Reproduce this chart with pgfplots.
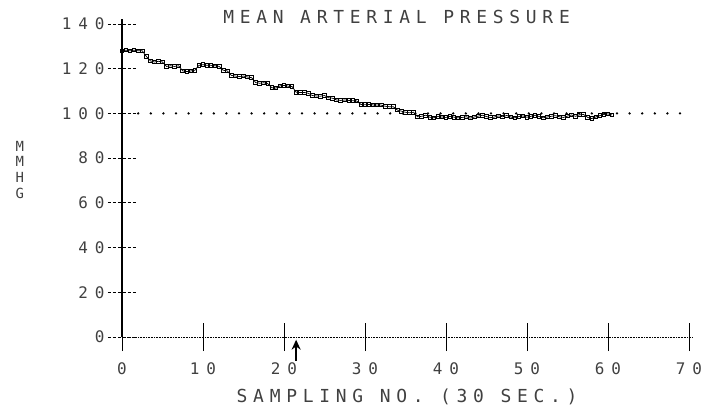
\documentclass[border=0pt]{standalone}
\usepackage{fontspec}
\newfontfamily\titlefont{DejaVu Sans Mono}[LetterSpace=32]
\newfontfamily\tickfont{DejaVu Sans Mono}[LetterSpace=43]
\usepackage{pgfplots}
\pgfplotsset{compat=1.18}
\usetikzlibrary{arrows.meta}
\begin{document}
\begin{tikzpicture}
\useasboundingbox (-122bp,-77bp) rectangle (588bp,337bp);
\begin{axis}[
  at={(0,0)}, anchor=south west,
  scale only axis, width=571bp, height=317.5bp,
  xmin=0, xmax=70.5, ymin=0, ymax=142,
  axis lines=left,
  axis line style={-},
  x axis line style={densely dotted, line width=0.6bp},
  y axis line style={solid, line width=1.2bp},
  xtick={0,10,...,70}, ytick={0,20,...,140},
  tick align=center, major tick length=28bp,
  xtick style={line width=0.8bp, black},
  ytick style={line width=0.8bp, densely dashed, black},
  /pgf/number format/assume math mode=true,
  ticklabel style={font=\tickfont\fontsize{16}{16}\selectfont, text=black!75},
  yticklabel style={anchor=east},
  xticklabel style={yshift=-8bp},
  clip=false,
]
\addplot[black, line width=2.6bp, line cap=round, dash pattern=on 0pt off 12.6bp]
  coordinates {(2,100) (69.2,100)};
\addplot[black, line width=0.7bp, mark=square, mark size=1.8bp, mark options={solid, line width=0.9bp}]
  coordinates {
  (0,128) (0.5,128.3) (1,128) (1.5,128.3) (2,128) (2.5,128)
  (3,125.5) (3.5,123.5) (4,123) (4.5,123.3) (5,123)
  (5.5,121) (6,121.3) (6.5,121) (7,121.3)
  (7.5,119) (8,118.7) (8.5,119) (9,119.3)
  (9.5,121.5) (10,121.8) (10.5,121.5) (11,121.5) (11.5,121.3) (12,121)
  (12.5,119.3) (13,119)
  (13.5,117) (14,116.7) (14.5,116.5) (15,116.7) (15.5,116.3) (16,116)
  (16.5,113.8) (17,113.5) (17.5,113.7) (18,113.3)
  (18.5,111.5) (19,111.3)
  (19.5,112.3) (20,112.5) (20.5,112.2) (21,112)
  (21.5,109.5) (22,109.3) (22.5,109.4) (23,109)
  (23.5,108) (24,107.8) (24.5,107.7) (25,108)
  (25.5,107) (26,106.8)
  (26.5,106) (27,105.8) (27.5,106) (28,105.8) (28.5,105.7) (29,105.5)
  (29.5,104) (30,103.9) (30.5,104) (31,103.8) (31.5,103.8) (32,103.7)
  (32.5,103.2) (33,103) (33.5,103)
  (34,101.5) (34.5,101)
  (35,100.5) (35.5,100.3) (36,100.5)
  (36.5,98.5) (37,98.7) (37.5,99.2) (38,98.3) (38.5,98.0) (39,98.6) (39.5,98.4) (40,98.2)
  (40.5,98.7) (41,98.3) (41.5,98.0) (42,98.2) (42.5,98.5) (43,97.9) (43.5,98.4) (44,98.8)
  (44.5,99.2) (45,98.6) (45.5,98.1) (46,98.4) (46.5,98.9) (47,98.5) (47.5,99.1) (48,98.4)
  (48.5,98.0) (49,98.6) (49.5,98.9) (50,98.3) (50.5,98.7) (51,99.2) (51.5,98.6) (52,98.0)
  (52.5,98.4) (53,98.7) (53.5,99.0) (54,98.5) (54.5,98.2) (55,98.8) (55.5,99.3) (56,98.7)
  (56.5,99.4) (57,99.5) (57.5,98.2) (58,97.7) (58.5,98.4) (59,99.0) (59.5,99.6) (60,99.8)
  (60.5,99.3)
  };
\draw[-{Stealth[length=10bp,width=9bp]}, line width=1.8bp] (axis cs:21.5,-10.8) -- (axis cs:21.5,-1.2);
\node[anchor=base, text=black!75, font=\titlefont\fontsize{18}{18}\selectfont] at (axis cs:33.9,140.4) {MEAN ARTERIAL PRESSURE};
\node[anchor=base, text=black!75, font=\titlefont\fontsize{18}{18}\selectfont] at (axis cs:35.2,-29.5) {SAMPLING NO. (30 SEC.)};
\node[text=black!75, font=\titlefont\fontsize{14}{16}\selectfont, align=center] at (axis cs:-12.6,74.7) {M\\M\\H\\G};
\end{axis}
\end{tikzpicture}
\end{document}
